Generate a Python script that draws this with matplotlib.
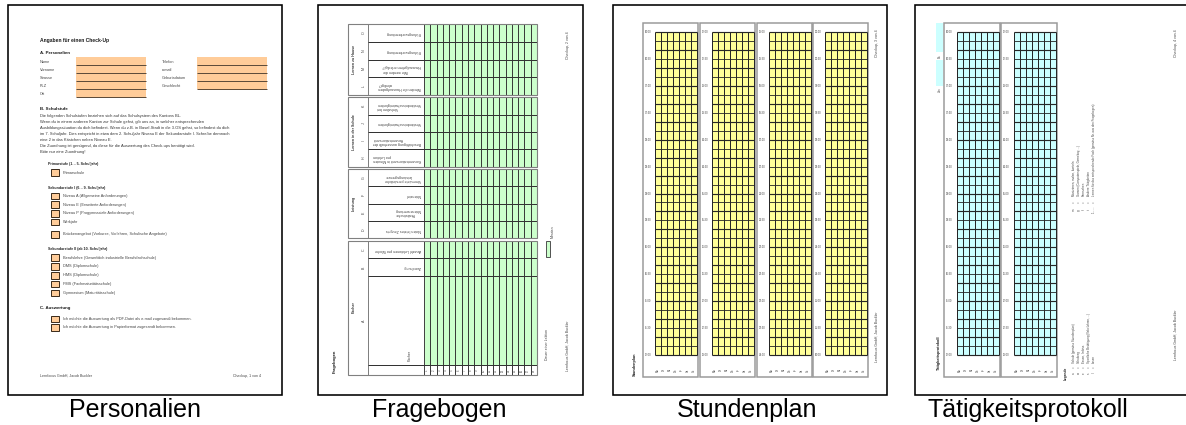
import matplotlib
matplotlib.use("Agg")
import matplotlib.pyplot as plt
from matplotlib.patches import Rectangle

# ---------------- data ----------------
captions = ["Personalien", "Fragebogen", "Stundenplan", "Tätigkeitsprotokoll"]

p1_title = "Angaben für einen Check-Up"
p1_links = ["Name", "Vorname", "Strasse", "PLZ", "Ort"]
p1_rechts = ["Telefon", "e-mail", "Geburtsdatum", "Geschlecht"]
p1_absatz = [
    "Die folgenden Schulstufen beziehen sich auf das Schulsystem des Kantons BL.",
    "Wenn du in einem anderen Kanton zur Schule gehst, gib uns an, in welcher entsprechenden",
    "Ausbildungssituation du dich befindest. Wenn du z.B. in Basel-Stadt in die 3.OS gehst, so befindest du dich",
    "im 7. Schuljahr. Dies entspricht in etwa dem 2. Schuljahr Niveau E der Sekundarstufe I. Schreibe demnach",
    "eine 2 in das Kästchen neben Niveau E.",
    "Die Zuordnung ist genügend, da diese für die Auswertung des Check-ups benötigt wird.",
    "Bitte nur eine Zuordnung!",
]
p1_primar = ["Primarschule"]
p1_sek1 = ["Niveau A (Allgemeine Anforderungen)", "Niveau E (Erweiterte Anforderungen)",
           "Niveau P (Progymnasiale Anforderungen)", "Werkjahr",
           "Brückenangebot (Vorkurse, Vorlehren, Schulische Angebote)"]
p1_sek2 = ["Berufslehre (Gewerblich-industrielle Berufsfachschule)", "DMS (Diplomschule)",
           "HMS (Diplomschule)", "FMS (Fachmaturitätsschule)", "Gymnasium (Maturitätsschule)"]
p1_ausw = ["Ich möchte die Auswertung als PDF-Datei als e-mail zugesandt bekommen.",
           "Ich möchte die Auswertung in Papierformat zugesandt bekommen."]
footer_left = "Lernfocus GmbH, Jacob Buckler"
footer_right = ["Checkup, 1 von 4", "Checkup, 2 von 4", "Checkup, 3 von 4", "Checkup, 4 von 4"]

frage_gruppen = ["Lernen zu Hause", "Lernen in der Schule", "Leistung", "Fächer"]
frage_buchst = [["O", "N", "M", "L"], ["K", "J", "I", "H"], ["G", "F", "E", "D"], ["C", "B", "A"]]
frage_texte = [
    ["Prüfungsvorbereitung", "Prüfungsvorbereitung", "Wie werden die\nHausaufgaben erledigt?",
     "Werden die Hausaufgaben\nerledigt?"],
    ["Verhalten bei\nVerständnisschwierigkeiten", "Verständnisschwierigkeiten",
     "Beschäftigung ausserhalb der\nKonzentrationszeit", "Konzentrationszeit in Minuten\npro Lektion"],
    ["Vermutete persönliche\nLeistungsgrenze", "Notenziel", "Realistische\nNotenerwartung",
     "Noten letztes Zeugnis"],
    ["Anzahl Lektionen pro Woche", "Zuordnung", ""],
]
frage_nummern = [str(i) for i in range(1, 19)]

tage = ["Mo", "Di", "Mi", "Do", "Fr", "Sa", "So"]
stunden_zeiten = [
    ["06:00", "06:30", "07:00", "07:30", "08:00", "08:30", "09:00", "09:30", "10:00", "10:30", "11:00", "11:30", "12:00"],
    ["12:00", "12:30", "13:00", "13:30", "14:00", "14:30", "15:00", "15:30", "16:00", "16:30", "17:00", "17:30", "18:00"],
    ["18:00", "18:30", "19:00", "19:30", "20:00", "20:30", "21:00", "21:30", "22:00", "22:30", "23:00", "23:30", "24:00"],
    ["00:00", "00:30", "01:00", "01:30", "02:00", "02:30", "03:00", "03:30", "04:00", "04:30", "05:00", "05:30", "06:00"],
]
protokoll_zeiten = [
    ["06:00", "06:30", "07:00", "07:30", "08:00", "08:30", "09:00", "09:30", "10:00", "10:30", "11:00", "11:30", "12:00"],
    ["12:00", "12:30", "13:00", "13:30", "14:00", "14:30", "15:00", "15:30", "16:00", "16:30", "17:00", "17:30", "18:00"],
]
protokoll_kopf = ["Bis", "Von"]
legende1 = [("a", "Schule (gemäss Stundenplan)"), ("w", "Schulweg"), ("e", "Essen, Imbiss"),
            ("s", "Sportliche Betätigung (Velo fahren, ...)"), ("l", "Lesen")]
legende2 = [("m", "Musizieren, malen, basteln"), ("g", "Gamen (Computerspiele, Gameboy, ...)"),
            ("f", "Fernsehen"), ("t", "Andere Tätigkeiten"),
            ("1 - ...", "Lernen für das entsprechende Fach (gemäss Nr. aus den Fragebogen)")]

# ---------------- setup ----------------
plt.rcParams["font.family"] = ["Liberation Sans", "DejaVu Sans"]
W, H = 1186, 425
fig = plt.figure(figsize=(W / 100, H / 100), dpi=100)
ax = fig.add_axes([0, 0, 1, 1])
ax.set_xlim(0, W)
ax.set_ylim(H, 0)
ax.axis("off")
PX = 0.72  # points per pixel

ORANGE = "#FFCC99"
GREEN = "#CCFFCC"
YELLOW = "#FFFF99"
CYAN = "#CCFFFF"
TXT = "#444444"
LINE = "#262626"


def rect(x0, y0, x1, y1, fc="none", ec="none", lw=1.0, z=1):
    ax.add_patch(Rectangle((x0, y0), x1 - x0, y1 - y0, facecolor=fc, edgecolor=ec,
                           linewidth=lw * PX, zorder=z))


def hline(y, x0, x1, c=LINE, lw=1.0, z=2):
    ax.plot([x0, x1], [y, y], color=c, lw=lw * PX, zorder=z, solid_capstyle="butt")


def vline(x, y0, y1, c=LINE, lw=1.0, z=2):
    ax.plot([x, x], [y0, y1], color=c, lw=lw * PX, zorder=z, solid_capstyle="butt")


def txt(x, y, s, size=3.0, rot=0, ha="left", va="center", weight="normal", color=TXT):
    ax.text(x, y, s, fontsize=size, rotation=rot, ha=ha, va=va, fontweight=weight,
            color=color, zorder=5, linespacing=1.1)


# page frames (left, top, right, bottom) and caption centres
frames = [(8, 5, 282, 395), (318, 5, 583, 395), (613, 5, 887, 395), (915, 5, 1192, 395)]
caption_cx = [135, 439, 747, 1028]
for (x0, y0, x1, y1), cx, cap in zip(frames, caption_cx, captions):
    rect(x0, y0, x1, y1, fc="white", ec="black", lw=1.6, z=0)
    ax.text(cx, 410, cap, fontsize=18, ha="center", va="center", color="black")

# ---------------- page 1: Personalien ----------------
txt(40, 40, p1_title, 3.6, weight="bold", color="#1a1a1a")
txt(40, 53, "A. Personalien", 3.2, weight="bold", color="#1a1a1a")
rect(76, 57, 146, 97, fc=ORANGE)
for i, lab in enumerate(p1_links):
    y = 62 + 8 * i
    txt(40, y, lab, 2.8)
    hline(65 + 8 * i, 76, 146, c="#5e4c3a", lw=1.0)
rect(197, 57, 267, 89, fc=ORANGE)
for i, lab in enumerate(p1_rechts):
    y = 62 + 8 * i
    txt(162, y, lab, 2.8)
    hline(65 + 8 * i, 197, 267, c="#5e4c3a", lw=1.0)

txt(40, 109, "B. Schulstufe", 3.2, weight="bold", color="#1a1a1a")
for i, line in enumerate(p1_absatz):
    txt(40, 116 + 5.95 * i, line, 2.85, color="#333333")


def checkbox_items(items, y_first, step, extra_last=0.0):
    for i, lab in enumerate(items):
        y = y_first + step * i
        if extra_last and i == len(items) - 1:
            y += extra_last
        rect(51, y - 3.3, 59, y + 3.3, fc=ORANGE, ec="#3e2e1e", lw=1.0)
        txt(63, y, lab, 2.8)


txt(48, 164.3, "Primarstufe (1. - 5. Schuljahr)", 2.6, weight="bold", color="#222222")
checkbox_items(p1_primar, 172.7, 8.6)
txt(48, 187.7, "Sekundarstufe I (6. - 9. Schuljahr)", 2.6, weight="bold", color="#222222")
checkbox_items(p1_sek1, 196, 8.6, extra_last=4.0)
txt(48, 249, "Sekundarstufe II (ab 10. Schuljahr)", 2.6, weight="bold", color="#222222")
checkbox_items(p1_sek2, 257.7, 8.8)
txt(40, 308, "C. Auswertung", 3.2, weight="bold", color="#1a1a1a")
checkbox_items(p1_ausw, 319, 8.3)
txt(40, 376, footer_left, 2.6)
txt(261, 376, footer_right[0], 2.6, ha="right")

# ---------------- page 2: Fragebogen ----------------
gx0, gx1 = 424, 537          # green grid horizontal extent
tx0, tx1 = 348, 368          # group title column
lx1 = 424                    # label column right
group_spans = [(24, 95), (97.3, 166.7), (169, 238.3), (240.7, 375)]
ncols = len(frage_nummern)
cw = (gx1 - gx0) / ncols
for gi, (gname, (ya, yb)) in enumerate(zip(frage_gruppen, group_spans)):
    rect(tx0, ya, gx1, yb, ec="#808080", lw=1.1, z=3)
    vline(tx1, ya, yb, c="#808080", lw=1.0)
    n = len(frage_buchst[gi])
    if gi < 3:
        bounds = [ya + (yb - ya) * k / n for k in range(n + 1)]
        green_bottom = yb
    else:
        rh = (group_spans[0][1] - group_spans[0][0]) / 4
        bounds = [ya, ya + rh, ya + 2 * rh, 365, yb]
        green_bottom = 365
    rect(gx0, ya, gx1, green_bottom, fc=GREEN, z=1)
    vline(lx1, ya, yb, c="#444444", lw=1.0)
    for b in bounds[1:-1]:
        hline(b, tx1, gx1, c="#333333", lw=1.0)
    for c in range(1, ncols):
        vline(gx0 + c * cw, ya, yb, c="#333333", lw=0.95)
    txt((tx0 + tx1) / 2 - 4, (ya + yb) / 2 if gi < 3 else 307, gname, 2.6, rot=90,
        ha="center", weight="bold", color="#333333")
    for ri, (let, lab) in enumerate(zip(frage_buchst[gi], frage_texte[gi])):
        yc = (bounds[ri] + bounds[ri + 1]) / 2
        txt(364, yc, let, 2.6, rot=90, ha="center")
        if lab:
            txt(421, yc, lab, 2.6, rot=180, ha="right", va="center")
    if gi == 3:
        txt(410, 355, "Fächer", 2.6, rot=90, ha="center")
        for c, num in enumerate(frage_nummern):
            txt(gx0 + (c + 0.5) * cw, 370, num, 2.0, rot=90, ha="center")

rect(546, 241, 550, 257, fc=GREEN, ec="#444444", lw=0.9)
txt(553, 232, "Minuten", 2.5, rot=90, ha="center")
txt(547, 345, "Dauer einer Lektion", 2.5, rot=90, ha="center")
txt(568, 45, footer_right[1], 2.5, rot=90, ha="center")
txt(568, 346, footer_left, 2.5, rot=90, ha="center")
txt(335, 361, "Fragebogen", 3.0, rot=90, ha="center", weight="bold", color="#1a1a1a")


# ---------------- grid panels (pages 3 & 4) ----------------
def grid_panel(x0, x1, gx, fc, zeiten, py0=23, py1=377, gy0=32, gy1=355, nrow=36):
    rect(x0, py0, x1, py1, fc="white", ec="#999999", lw=1.5, z=1)
    rect(gx, gy0, x1 - 0.7, gy1, fc=fc, z=1.5)
    ncol = len(tage)
    cwid = (x1 - 0.7 - gx) / ncol
    for c in range(ncol + 1):
        vline(gx + c * cwid, gy0, gy1, c=LINE, lw=1.0)
    rh = (gy1 - gy0) / nrow
    for r in range(nrow + 1):
        hline(gy0 + r * rh, gx, x1 - 0.7, c=LINE, lw=1.15 if r % 2 == 0 else 0.85)
    step = nrow // (len(zeiten) - 1)
    for k, z in enumerate(zeiten):
        txt(x0 + 1.5, gy0 + k * step * rh, z, 1.9)
    for c, d in enumerate(tage):
        txt(gx + (c + 0.5) * cwid, 370, d, 1.9, rot=90, ha="center")


panel_x3 = [643, 700, 757, 813]
for i, z in enumerate(stunden_zeiten):
    grid_panel(panel_x3[i], panel_x3[i] + 55, panel_x3[i] + 12, YELLOW, z)
txt(635, 364, "Stundenplan", 2.8, rot=90, ha="center", weight="bold", color="#1a1a1a")
txt(877, 43, footer_right[2], 2.5, rot=90, ha="center")
txt(877, 337, footer_left, 2.5, rot=90, ha="center")

# ---------------- page 4: Tätigkeitsprotokoll ----------------
panel_x4 = [944, 1001]
for i, z in enumerate(protokoll_zeiten):
    grid_panel(panel_x4[i], panel_x4[i] + 56, panel_x4[i] + 13, CYAN, z)
rect(936, 23, 943, 52, fc=CYAN)
rect(936, 60, 943, 86, fc=CYAN)
txt(939.5, 56, protokoll_kopf[0], 1.9, rot=90, ha="center")
txt(939.5, 90, protokoll_kopf[1], 1.9, rot=90, ha="center")
txt(939, 353, "Tätigkeitsprotokoll", 2.8, rot=90, ha="center", weight="bold", color="#1a1a1a")
txt(1066, 373, "Legende", 2.3, rot=90, ha="center", weight="bold", color="#222222")
for i, (k, lab) in enumerate(legende1):
    x = 1074 + 5 * i
    txt(x, 373, k, 2.1, rot=90, ha="center")
    txt(x, 367, "=", 2.1, rot=90, ha="center")
    txt(x, 363, lab, 2.1, rot=90, ha="center", va="bottom")
for i, (k, lab) in enumerate(legende2):
    x = 1074 + 5 * i
    txt(x, 210, k, 2.1, rot=90, ha="center")
    txt(x, 202, "=", 2.1, rot=90, ha="center")
    txt(x, 196, lab, 2.1, rot=90, ha="center", va="bottom")
txt(1176, 43, footer_right[3], 2.5, rot=90, ha="center")
txt(1176, 335, footer_left, 2.5, rot=90, ha="center")

fig.savefig("out.png", dpi=100, facecolor="white")
